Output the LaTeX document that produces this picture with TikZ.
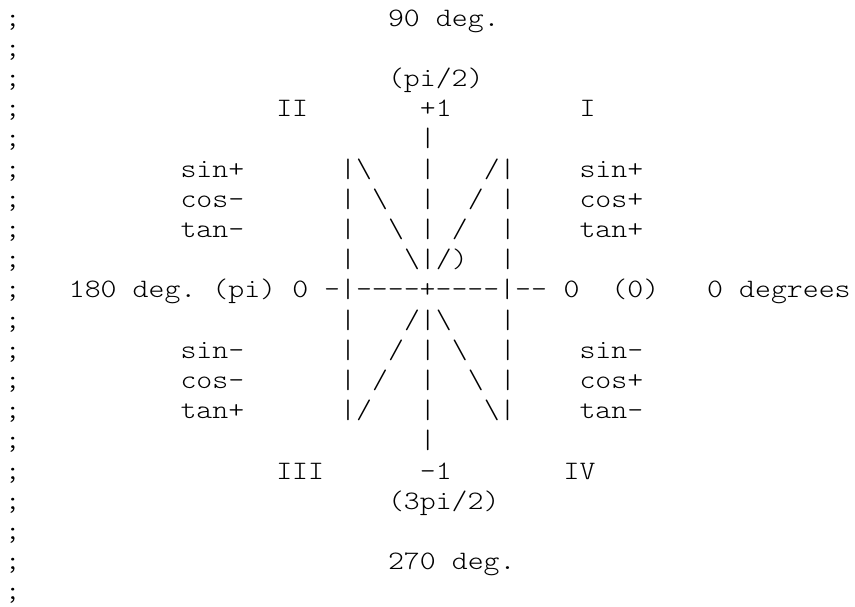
\documentclass[tikz,border=0pt]{standalone}
\usepackage{fontspec}
\setmonofont{lmmonolt10-regular.otf}[FakeStretch=1.14]
\newcommand\bs{\textbackslash}
\tikzset{
  glyph/.style={anchor=base west, inner sep=0pt, outer sep=0pt, text=black,
    font=\fontsize{26.6}{30.2}\selectfont\ttfamily}
}
% \gl{name}{column}{line}{text}
\newcommand\gl[4]{\node[glyph] (#1) at ({5+15.96*#2},{-26-30.2*(#3-1)}) {#4};}
\begin{document}
\begin{tikzpicture}[x=1pt,y=1pt]
\fill[white] (0,0) rectangle (855,-606);
\useasboundingbox (0,0) rectangle (855,-606);
% column of semicolons
\foreach \k in {1,...,20} {\gl{sc\k}{0}{\k}{;}}
% line 1-3
\gl{ninety}{24}{1}{90}
\gl{degA}{27}{1}{deg.}
\gl{pihalf}{24}{3}{(pi/2)}
% line 4
\gl{qII}{17}{4}{II}
\gl{plusone}{26}{4}{+1}
\gl{qI}{36}{4}{I}
% line 5
\gl{ax5}{26}{5}{|}
% line 6
\gl{sinA}{11}{6}{sin+}
\gl{l6a}{21}{6}{|\bs}
\gl{l6b}{26}{6}{|}
\gl{l6c}{30}{6}{/|}
\gl{sinB}{36}{6}{sin+}
% line 7
\gl{cosA}{11}{7}{cos-}
\gl{l7a}{21}{7}{|}
\gl{l7b}{23}{7}{\bs}
\gl{l7c}{26}{7}{|}
\gl{l7d}{29}{7}{/}
\gl{l7e}{31}{7}{|}
\gl{cosB}{36}{7}{cos+}
% line 8
\gl{tanA}{11}{8}{tan-}
\gl{l8a}{21}{8}{|}
\gl{l8b}{24}{8}{\bs}
\gl{l8c}{26}{8}{|}
\gl{l8d}{28}{8}{/}
\gl{l8e}{31}{8}{|}
\gl{tanB}{36}{8}{tan+}
% line 9
\gl{l9a}{21}{9}{|}
\gl{l9b}{25}{9}{\bs|/)}
\gl{l9c}{31}{9}{|}
% line 10
\gl{oneeighty}{4}{10}{180}
\gl{degB}{8}{10}{deg.}
\gl{pi}{13}{10}{(pi)}
\gl{zeroL}{18}{10}{0}
\gl{axis}{20}{10}{-|----+----|--}
\gl{zeroR}{35}{10}{0}
\gl{zeroA}{38}{10}{(0)}
\gl{zeroB}{44}{10}{0}
\gl{degrees}{46}{10}{degrees}
% line 11
\gl{l11a}{21}{11}{|}
\gl{l11b}{25}{11}{/|\bs}
\gl{l11c}{31}{11}{|}
% line 12
\gl{sinC}{11}{12}{sin-}
\gl{l12a}{21}{12}{|}
\gl{l12b}{24}{12}{/}
\gl{l12c}{26}{12}{|}
\gl{l12d}{28}{12}{\bs}
\gl{l12e}{31}{12}{|}
\gl{sinD}{36}{12}{sin-}
% line 13
\gl{cosC}{11}{13}{cos-}
\gl{l13a}{21}{13}{|}
\gl{l13b}{23}{13}{/}
\gl{l13c}{26}{13}{|}
\gl{l13d}{29}{13}{\bs}
\gl{l13e}{31}{13}{|}
\gl{cosD}{36}{13}{cos+}
% line 14
\gl{tanC}{11}{14}{tan+}
\gl{l14a}{21}{14}{|/}
\gl{l14b}{26}{14}{|}
\gl{l14c}{30}{14}{\bs|}
\gl{tanD}{36}{14}{tan-}
% line 15
\gl{ax15}{26}{15}{|}
% line 16
\gl{qIII}{17}{16}{III}
\gl{minusone}{26}{16}{-1}
\gl{qIV}{35}{16}{IV}
% line 17, 19
\gl{threepi}{24}{17}{(3pi/2)}
\gl{twoseventy}{24}{19}{270}
\gl{degC}{28}{19}{deg.}
\end{tikzpicture}
\end{document}
